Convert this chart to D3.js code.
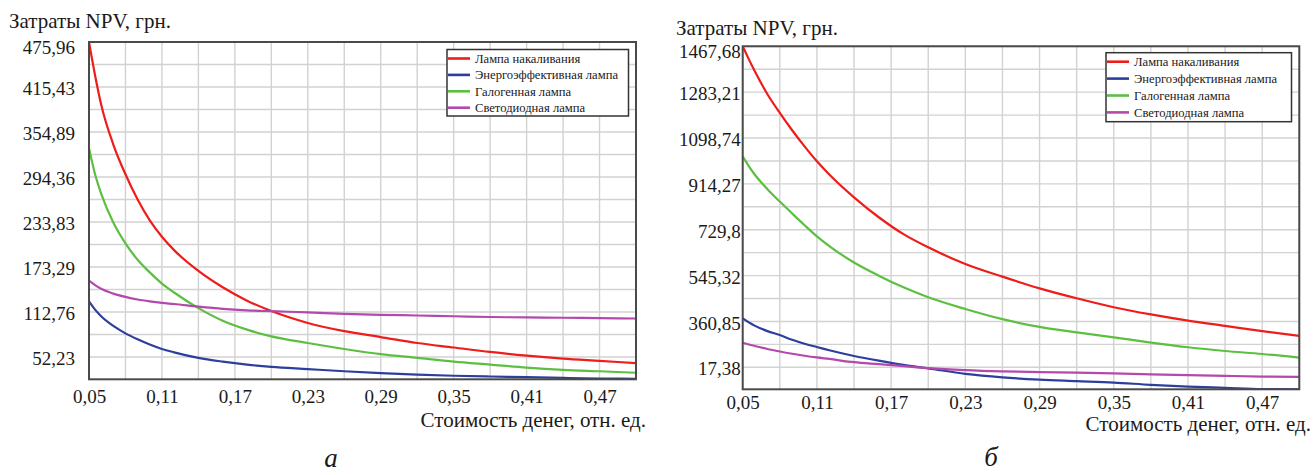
<!DOCTYPE html>
<html>
<head>
<meta charset="utf-8">
<script src="https://cdn.jsdelivr.net/npm/d3@7"></script>
<style>
    body { margin: 0; background: #fff; }
    svg text { font-family: "Liberation Serif", "Times New Roman", serif; fill: #1a1a1a; }
</style>
</head>
<body>
<div id="chart"></div>
<script>
// NPV cost vs discount rate for four lamp types, two scenarios (а, б)

const seriesNames = ['Лампа накаливания', 'Энергоэффективная лампа', 'Галогенная лампа', 'Светодиодная лампа'];
const seriesColors = ['#ee1d1a', '#2d3f9e', '#5dbf42', '#b449ad'];

// discount rate samples
const rates = [0.05, 0.055, 0.06, 0.07, 0.08, 0.09, 0.10, 0.11, 0.12, 0.14, 0.16, 0.18, 0.20,
               0.23, 0.26, 0.29, 0.32, 0.35, 0.38, 0.41, 0.44, 0.47, 0.50];

// chart а
const aIncandescent = [476, 431, 392, 338, 298, 264, 236, 214, 196, 168, 146, 128, 114,
                       98, 87, 79, 71, 65, 59, 54, 50, 47, 44];
const aEnergySaving = [127, 116, 107, 94, 84, 76, 69, 63, 58.5, 51, 46, 42, 39,
                       36, 33, 30.5, 28.5, 27, 26, 25, 24, 23.3, 22.8];
const aHalogen = [333, 298, 272, 233, 205, 183, 166, 151, 139, 118, 101, 89, 80,
                  71, 63, 56, 51, 46, 42, 38, 35, 33, 31];
const aLed = [155, 149, 144, 137.5, 133, 129.5, 127, 125, 123.5, 120, 117, 115, 113.8,
              112.3, 110.3, 109, 108, 107, 106, 105.5, 105, 104.5, 104];

// chart б
const bIncandescent = [1468, 1415, 1365, 1275, 1200, 1130, 1065, 1005, 952, 860, 780, 712, 659,
                       592, 541, 494, 454, 418, 389, 364, 343, 322, 303];
const bEnergySaving = [373, 357, 343, 322, 306, 287, 271, 258, 245, 222, 203, 186, 172,
                       150, 136, 127, 121, 115, 106, 99, 94, 89, 88];
const bHalogen = [1025, 985, 950, 893, 843, 795, 748, 703, 664, 598, 545, 498, 458,
                  411, 370, 339, 317, 297, 276, 257, 242, 230, 215];
const bLed = [275, 268, 262, 250, 240, 231, 223, 216, 210, 197, 189, 181, 173,
              165, 160, 157, 155, 152, 148, 145, 142, 139, 138];

// axes
const xTicks = [0.05, 0.11, 0.17, 0.23, 0.29, 0.35, 0.41, 0.47];
const xTickLabels = ['0,05', '0,11', '0,17', '0,23', '0,29', '0,35', '0,41', '0,47'];
const xDomain = [0.05, 0.5];

const aYTicks = [475.96, 415.43, 354.89, 294.36, 233.83, 173.29, 112.76, 52.23];
const aYTickLabels = ['475,96', '415,43', '354,89', '294,36', '233,83', '173,29', '112,76', '52,23'];
const aYDomain = [22.2, 475.96];

const bYTicks = [1467.68, 1283.21, 1098.74, 914.27, 729.80, 545.32, 360.85, 176.38];
const bYTickLabels = ['1467,68', '1283,21', '1098,74', '914,27', '729,8', '545,32', '360,85', '17,38'];
const bYDomain = [87.9, 1467.68];

const yTitle = 'Затраты NPV, грн.';
const xTitle = 'Стоимость денег, отн. ед.';

const width = 1314, height = 475;

const svg = d3.select('#chart')
    .append('svg')
    .attr('width', width)
    .attr('height', height);

svg.append('rect').attr('width', width).attr('height', height).attr('fill', '#fff');

function drawChart(cfg) {
    const { box } = cfg;
    const x = d3.scaleLinear().domain(xDomain).range([box.left, box.right]);
    const y = d3.scaleLinear().domain(cfg.yDomain).range([box.bottom, box.top]);

    const g = svg.append('g');

    // grid: every 0.03 on x, half tick step on y
    const xGrid = d3.range(0, 16).map(i => xDomain[0] + i * 0.03);
    const step = cfg.yTicks[0] - cfg.yTicks[1];
    const yGrid = d3.range(0, 15).map(i => cfg.yTicks[0] - i * step / 2);

    g.append('g')
        .selectAll('line')
        .data(xGrid)
        .join('line')
        .attr('x1', d => x(d)).attr('x2', d => x(d))
        .attr('y1', box.top).attr('y2', box.bottom)
        .attr('stroke', '#d2d2d2')
        .attr('stroke-width', 1.4);

    g.append('g')
        .selectAll('line')
        .data(yGrid.filter(d => d > cfg.yDomain[0]))
        .join('line')
        .attr('x1', box.left).attr('x2', box.right)
        .attr('y1', d => y(d)).attr('y2', d => y(d))
        .attr('stroke', '#d2d2d2')
        .attr('stroke-width', 1.4);

    // curves
    const clipId = 'clip-' + cfg.id;
    svg.append('clipPath').attr('id', clipId)
        .append('rect')
        .attr('x', box.left).attr('y', box.top - 2)
        .attr('width', box.right - box.left)
        .attr('height', box.bottom - box.top + 2);

    const line = d3.line()
        .x((d, i) => x(rates[i]))
        .y(d => y(d))
        .curve(d3.curveMonotoneX);

    g.append('g')
        .attr('clip-path', `url(#${clipId})`)
        .selectAll('path')
        .data(cfg.series)
        .join('path')
        .attr('d', d => line(d))
        .attr('fill', 'none')
        .attr('stroke', (d, i) => seriesColors[i])
        .attr('stroke-width', 2.2);

    // frame
    g.append('rect')
        .attr('x', box.left).attr('y', box.top)
        .attr('width', box.right - box.left)
        .attr('height', box.bottom - box.top)
        .attr('fill', 'none')
        .attr('stroke', '#4a4a4a')
        .attr('stroke-width', 2);

    // y axis labels
    const yAxis = d3.axisLeft(y)
        .tickValues(cfg.yTicks)
        .tickFormat((d, i) => cfg.yTickLabels[i])
        .tickSize(0)
        .tickPadding(cfg.yPad);

    const ya = g.append('g')
        .attr('transform', `translate(${box.left},0)`)
        .call(yAxis);
    ya.select('.domain').remove();
    ya.selectAll('text')
        .attr('font-size', 19)
        .attr('dy', (d, i) => i === 0 ? '0.6em' : '0.4em')
        .style('font-family', '"Liberation Serif", "Times New Roman", serif')
        .attr('fill', '#1a1a1a');

    // x axis labels
    const xAxis = d3.axisBottom(x)
        .tickValues(xTicks)
        .tickFormat((d, i) => xTickLabels[i])
        .tickSize(0)
        .tickPadding(cfg.xPad);

    const xa = g.append('g')
        .attr('transform', `translate(0,${box.bottom})`)
        .call(xAxis);
    xa.select('.domain').remove();
    xa.selectAll('text')
        .attr('font-size', 19)
        .style('font-family', '"Liberation Serif", "Times New Roman", serif')
        .attr('fill', '#1a1a1a');

    // titles
    g.append('text')
        .attr('x', cfg.yTitlePos[0])
        .attr('y', cfg.yTitlePos[1])
        .attr('font-size', 21)
        .text(yTitle);

    g.append('text')
        .attr('x', cfg.xTitlePos[0])
        .attr('y', cfg.xTitlePos[1])
        .attr('text-anchor', 'end')
        .attr('font-size', 21)
        .text(xTitle);

    g.append('text')
        .attr('x', cfg.captionPos[0])
        .attr('y', cfg.captionPos[1])
        .attr('text-anchor', 'middle')
        .attr('font-size', 27)
        .attr('font-style', 'italic')
        .text(cfg.caption);

    // legend
    const lg = g.append('g')
        .attr('transform', `translate(${cfg.legend.x},${cfg.legend.y})`);

    lg.append('rect')
        .attr('width', cfg.legend.w)
        .attr('height', cfg.legend.h)
        .attr('fill', '#fff')
        .attr('stroke', '#333')
        .attr('stroke-width', 1.5);

    const rows = lg.selectAll('.row')
        .data(seriesNames)
        .join('g')
        .attr('class', 'row')
        .attr('transform', (d, i) => `translate(0,${9 + i * cfg.legend.gap})`);

    rows.append('line')
        .attr('x1', 1).attr('x2', 23)
        .attr('stroke', (d, i) => seriesColors[i])
        .attr('stroke-width', 2.6);

    rows.append('text')
        .attr('x', 28)
        .attr('dy', '0.35em')
        .attr('font-size', 12.6)
        .text(d => d);
}

drawChart({
    id: 'a',
    box: { left: 89, right: 636, top: 42, bottom: 379.3 },
    yDomain: aYDomain,
    yTicks: aYTicks,
    yTickLabels: aYTickLabels,
    series: [aIncandescent, aEnergySaving, aHalogen, aLed],
    yPad: 14,
    xPad: 10,
    yTitlePos: [9, 28],
    xTitlePos: [646, 427],
    caption: 'а',
    captionPos: [331, 467],
    legend: { x: 447, y: 49.5, w: 181.5, h: 66.5, gap: 16.4 }
});

drawChart({
    id: 'b',
    box: { left: 742.7, right: 1299.3, top: 46.3, bottom: 389.3 },
    yDomain: bYDomain,
    yTicks: bYTicks,
    yTickLabels: bYTickLabels,
    series: [bIncandescent, bEnergySaving, bHalogen, bLed],
    yPad: 2,
    xPad: 6,
    yTitlePos: [676, 35],
    xTitlePos: [1311, 431],
    caption: 'б',
    captionPos: [991, 466],
    legend: { x: 1106, y: 52.7, w: 185.5, h: 69, gap: 16.9 }
});
</script>
</body>
</html>
